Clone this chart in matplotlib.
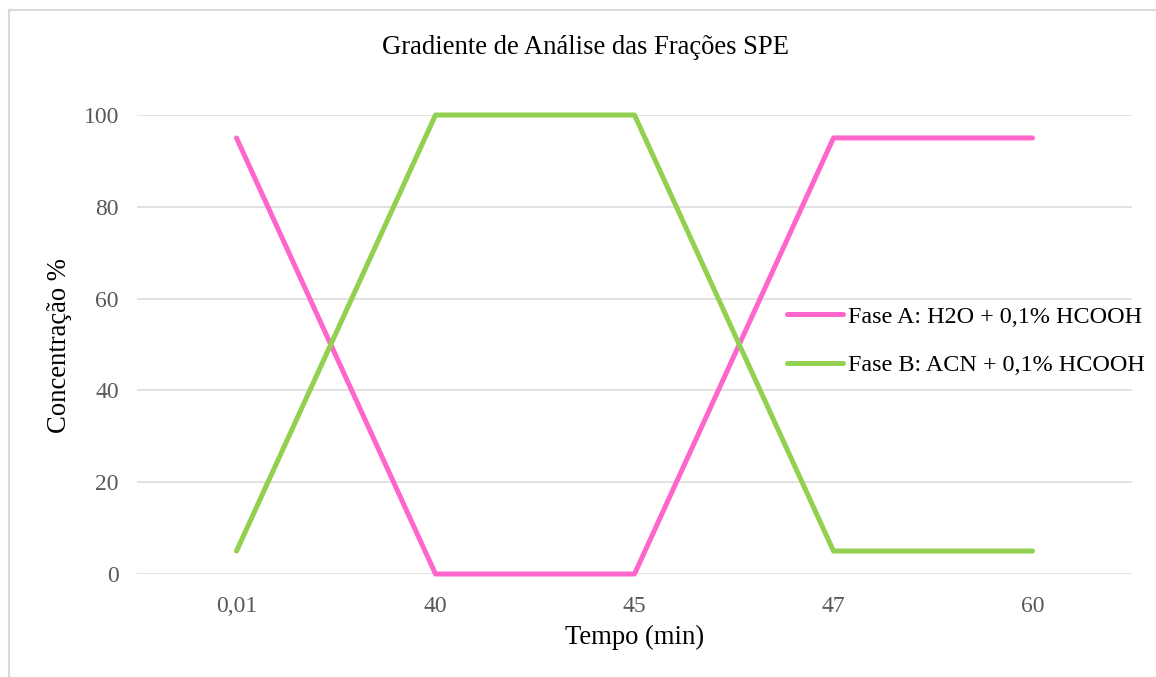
import numpy as np
from matplotlib import pyplot as plt
from matplotlib.patches import Rectangle

tempo = ['0,01', '40', '45', '47', '60']
fase_a = [95, 0, 0, 95, 95]
fase_b = [5, 100, 100, 5, 5]
label_a = 'Fase A: H2O + 0,1% HCOOH'
label_b = 'Fase B: ACN + 0,1% HCOOH'

plt.rcParams['font.family'] = ['Liberation Serif', 'DejaVu Serif']

W, H = 1156, 677
fig = plt.figure(figsize=(W / 100, H / 100), dpi=100)
ax = fig.add_axes([137 / W, 1 - 574 / H, (1132 - 137) / W, (574 - 115) / H])

# chart border (only left and top edges visible in the crop)
fig.patches.append(Rectangle((9 / W, -0.1), 2.0, 1.1 - 10 / H, transform=fig.transFigure,
                             fill=False, edgecolor='#D9D9D9', linewidth=1.5))

x = np.arange(len(tempo))
ax.plot(x, fase_a, color='#FF66CC', lw=3.6, solid_capstyle='round', solid_joinstyle='round', label=label_a)
ax.plot(x, fase_b, color='#92D050', lw=3.6, solid_capstyle='round', solid_joinstyle='round', label=label_b)

ax.set_xlim(-0.5, len(tempo) - 0.5)
ax.set_ylim(0, 100)
ax.set_xticks(x)
ax.set_xticklabels(tempo)
ax.set_yticks(np.arange(0, 101, 20))
ax.tick_params(length=0, labelsize=17, labelcolor='#595959')
ax.tick_params(axis='x', pad=16)
ax.tick_params(axis='y', pad=13)
for s in ax.spines.values():
    s.set_visible(False)
ax.yaxis.grid(True, color='#D9D9D9', lw=1.1)
ax.set_axisbelow(True)
for ln in ax.lines:
    ln.set_clip_on(False)

fig.text(586 / W, 1 - 48 / H, 'Gradiente de Análise das Frações SPE', ha='center', va='center', fontsize=19.2)
fig.text(635 / W, 1 - 637 / H, 'Tempo (min)', ha='center', va='center', fontsize=19.2)
fig.text(60 / W, 1 - 346 / H, 'Concentração %', ha='center', va='center', rotation=90, fontsize=19.2)

ax.legend(loc='center left', bbox_to_anchor=(775 / W, 1 - 341 / H), bbox_transform=fig.transFigure,
          frameon=False, fontsize=17.4, borderpad=0, handlelength=2.3, handletextpad=0.2,
          labelspacing=1.1)

fig.savefig('out.png', dpi=100)
